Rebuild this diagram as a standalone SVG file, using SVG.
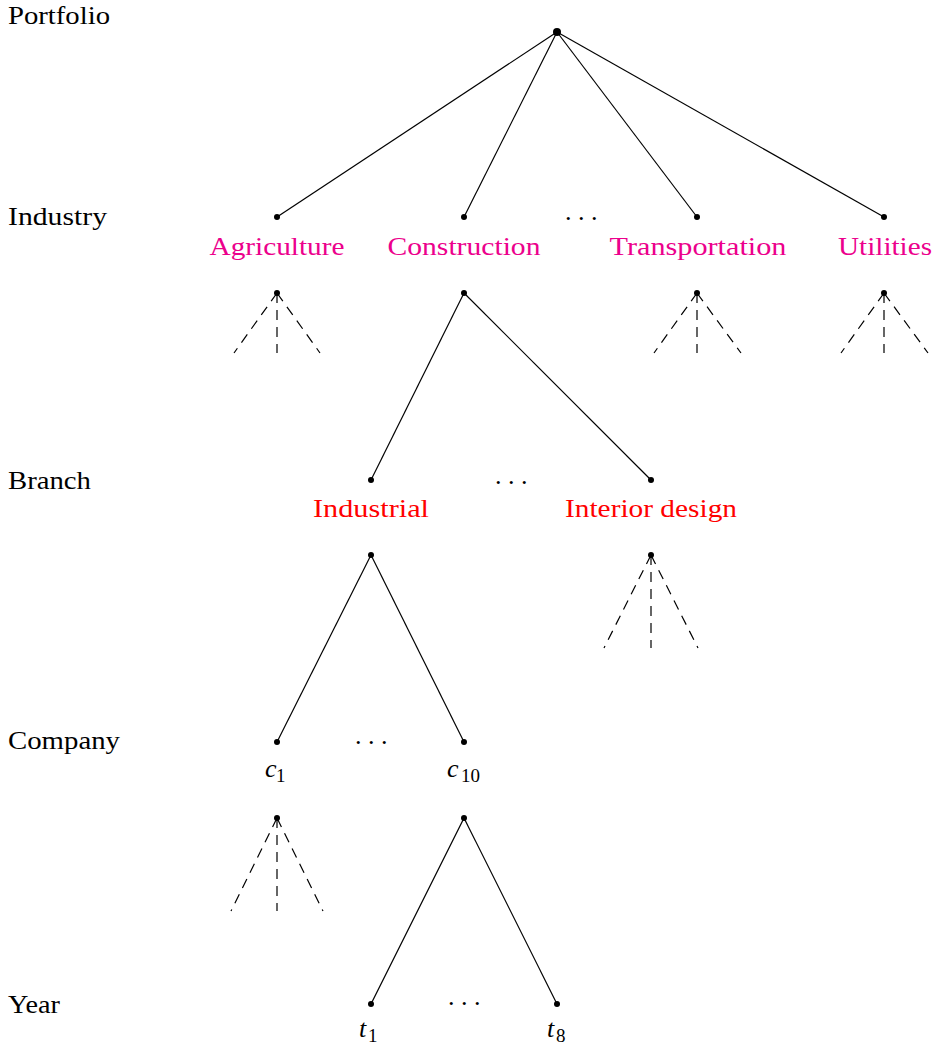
<svg xmlns="http://www.w3.org/2000/svg" width="942" height="1048" viewBox="0 0 942 1048" font-family="'Liberation Serif', 'Times New Roman', Tinos, 'DejaVu Serif', serif">
  <style>
    text { font-family: 'Liberation Serif', 'Times New Roman', Tinos, 'DejaVu Serif', serif; font-size: 26px; }
    .lbl { fill: #000; }
    .ind { fill: #ec008c; text-anchor: middle; }
    .br { fill: #ff0000; text-anchor: middle; }
    .math { font-style: italic; fill: #000; }
    .sub { font-style: normal; font-size: 19px; }
    .dots { fill: #000; }
    .edge { stroke: #000; stroke-width: 1.2; fill: none; }
    .dash { stroke: #000; stroke-width: 1.2; fill: none; stroke-dasharray: 10 7; }
    .node { fill: #000; }
  </style>

  <!-- level titles -->
  <g id="levels">
    <text class="lbl" x="8" y="24" textLength="102" lengthAdjust="spacingAndGlyphs">Portfolio</text>
    <text class="lbl" x="8" y="225" textLength="99" lengthAdjust="spacingAndGlyphs">Industry</text>
    <text class="lbl" x="8" y="489" textLength="83" lengthAdjust="spacingAndGlyphs">Branch</text>
    <text class="lbl" x="8" y="749" textLength="112" lengthAdjust="spacingAndGlyphs">Company</text>
    <text class="lbl" x="8" y="1013" textLength="52" lengthAdjust="spacingAndGlyphs">Year</text>
  </g>

  <!-- connectors -->
  <g id="connectors">
    <!-- portfolio to industries -->
    <line class="edge" x1="557" y1="32" x2="277" y2="217"/>
    <line class="edge" x1="557" y1="32" x2="464" y2="217"/>
    <line class="edge" x1="557" y1="32" x2="697" y2="217"/>
    <line class="edge" x1="557" y1="32" x2="884" y2="217"/>
    <!-- agriculture (collapsed) -->
    <line class="dash" x1="277" y1="293" x2="234" y2="353"/>
    <line class="dash" x1="277" y1="293" x2="277" y2="353"/>
    <line class="dash" x1="277" y1="293" x2="320" y2="353"/>
    <!-- transportation (collapsed) -->
    <line class="dash" x1="697" y1="293" x2="654" y2="353"/>
    <line class="dash" x1="697" y1="293" x2="697" y2="353"/>
    <line class="dash" x1="697" y1="293" x2="741" y2="353"/>
    <!-- utilities (collapsed) -->
    <line class="dash" x1="884" y1="293" x2="841" y2="353"/>
    <line class="dash" x1="884" y1="293" x2="884" y2="353"/>
    <line class="dash" x1="884" y1="293" x2="928" y2="353"/>
    <!-- construction to branches -->
    <line class="edge" x1="464" y1="293" x2="371" y2="480"/>
    <line class="edge" x1="464" y1="293" x2="651" y2="480"/>
    <!-- industrial to companies -->
    <line class="edge" x1="371" y1="555" x2="277" y2="742"/>
    <line class="edge" x1="371" y1="555" x2="464" y2="742"/>
    <!-- interior design (collapsed) -->
    <line class="dash" x1="651" y1="555" x2="604" y2="648"/>
    <line class="dash" x1="651" y1="555" x2="651" y2="648"/>
    <line class="dash" x1="651" y1="555" x2="698" y2="648"/>
    <!-- c1 (collapsed) -->
    <line class="dash" x1="277" y1="818" x2="231" y2="911"/>
    <line class="dash" x1="277" y1="818" x2="277" y2="911"/>
    <line class="dash" x1="277" y1="818" x2="323" y2="911"/>
    <!-- c10 to years -->
    <line class="edge" x1="464" y1="818" x2="371" y2="1004"/>
    <line class="edge" x1="464" y1="818" x2="557" y2="1004"/>
  </g>

  <g id="portfolio">
    <circle class="node" cx="557" cy="32" r="4"/>
  </g>

  <g id="agriculture">
    <circle class="node" cx="277" cy="217" r="3"/>
    <text class="ind" x="277" y="255" textLength="135" lengthAdjust="spacingAndGlyphs">Agriculture</text>
    <circle class="node" cx="277" cy="293" r="3"/>
  </g>
  <g id="construction">
    <circle class="node" cx="464" cy="217" r="3"/>
    <text class="ind" x="464" y="255" textLength="153" lengthAdjust="spacingAndGlyphs">Construction</text>
    <circle class="node" cx="464" cy="293" r="3"/>
  </g>
  <g id="transportation">
    <circle class="node" cx="697" cy="217" r="3"/>
    <text class="ind" x="698" y="255" textLength="177" lengthAdjust="spacingAndGlyphs">Transportation</text>
    <circle class="node" cx="697" cy="293" r="3"/>
  </g>
  <g id="utilities">
    <circle class="node" cx="884" cy="217" r="3"/>
    <text class="ind" x="885" y="255" textLength="94" lengthAdjust="spacingAndGlyphs">Utilities</text>
    <circle class="node" cx="884" cy="293" r="3"/>
  </g>

  <g id="industrial">
    <circle class="node" cx="371" cy="480" r="3"/>
    <text class="br" x="371" y="517" textLength="116" lengthAdjust="spacingAndGlyphs">Industrial</text>
    <circle class="node" cx="371" cy="555" r="3"/>
  </g>
  <g id="interior-design">
    <circle class="node" cx="651" cy="480" r="3"/>
    <text class="br" x="651" y="517" textLength="172" lengthAdjust="spacingAndGlyphs">Interior design</text>
    <circle class="node" cx="651" cy="555" r="3"/>
  </g>

  <g id="c1">
    <circle class="node" cx="277" cy="742" r="3"/>
    <text class="math" x="265" y="777">c<tspan class="sub" x="276" dy="5">1</tspan></text>
    <circle class="node" cx="277" cy="818" r="3"/>
  </g>
  <g id="c10">
    <circle class="node" cx="464" cy="742" r="3"/>
    <text class="math" x="447" y="777">c<tspan class="sub" x="461" dy="5">10</tspan></text>
    <circle class="node" cx="464" cy="818" r="3"/>
  </g>

  <g id="t1">
    <circle class="node" cx="371" cy="1004" r="3"/>
    <text class="math" x="359" y="1037">t<tspan class="sub" x="368" dy="5">1</tspan></text>
  </g>
  <g id="t8">
    <circle class="node" cx="557" cy="1004" r="3"/>
    <text class="math" x="547" y="1037">t<tspan class="sub" x="556" dy="5">8</tspan></text>
  </g>

  <!-- elided siblings -->
  <g id="ellipses">
    <text class="dots" x="565" y="220">. . .</text>
    <text class="dots" x="495" y="484">. . .</text>
    <text class="dots" x="355" y="744">. . .</text>
    <text class="dots" x="448" y="1005">. . .</text>
  </g>
</svg>
